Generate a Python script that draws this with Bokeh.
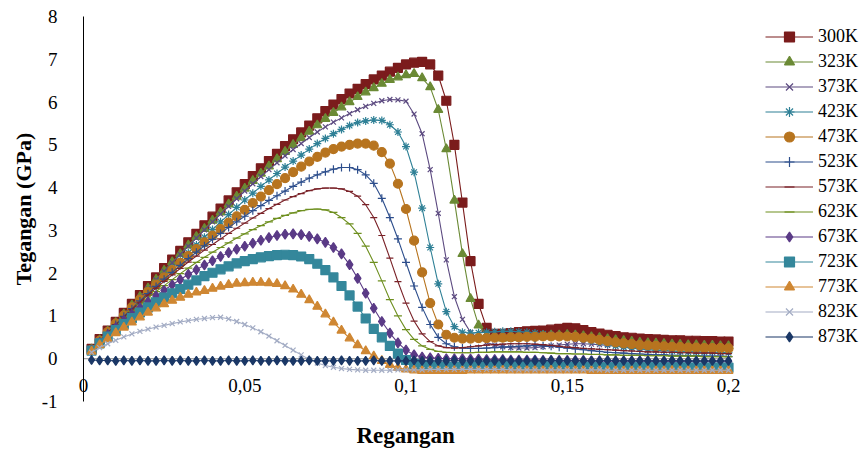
from bokeh.plotting import figure
from bokeh.models import Legend, LegendItem, FixedTicker, Title
from bokeh.embed import file_html
from bokeh.resources import INLINE

strain = [0.0025, 0.005, 0.0075, 0.01, 0.0125, 0.015, 0.0175, 0.02, 0.0225, 0.025,
          0.0275, 0.03, 0.0325, 0.035, 0.0375, 0.04, 0.0425, 0.045, 0.0475, 0.05,
          0.0525, 0.055, 0.0575, 0.06, 0.0625, 0.065, 0.0675, 0.07, 0.0725, 0.075,
          0.0775, 0.08, 0.0825, 0.085, 0.0875, 0.09, 0.0925, 0.095, 0.0975, 0.1,
          0.1025, 0.105, 0.1075, 0.11, 0.1125, 0.115, 0.1175, 0.12, 0.1225, 0.125,
          0.1275, 0.13, 0.1325, 0.135, 0.1375, 0.14, 0.1425, 0.145, 0.1475, 0.15,
          0.1525, 0.155, 0.1575, 0.16, 0.1625, 0.165, 0.1675, 0.17, 0.1725, 0.175,
          0.1775, 0.18, 0.1825, 0.185, 0.1875, 0.19, 0.1925, 0.195, 0.1975, 0.2]

s300 = [0.23, 0.46, 0.66, 0.86, 1.07, 1.28, 1.49, 1.70, 1.90, 2.12,
        2.32, 2.52, 2.72, 2.92, 3.12, 3.32, 3.51, 3.70, 3.89, 4.08,
        4.27, 4.45, 4.62, 4.79, 4.97, 5.13, 5.29, 5.45, 5.62, 5.79,
        5.94, 6.07, 6.20, 6.31, 6.42, 6.53, 6.62, 6.71, 6.80, 6.88,
        6.92, 6.94, 6.88, 6.62, 6.03, 5.00, 3.65, 2.28, 1.28, 0.72,
        0.58, 0.58, 0.60, 0.62, 0.64, 0.65, 0.66, 0.68, 0.70, 0.72,
        0.71, 0.67, 0.62, 0.59, 0.56, 0.53, 0.50, 0.49, 0.47, 0.46,
        0.45, 0.44, 0.43, 0.43, 0.42, 0.42, 0.41, 0.41, 0.40, 0.40]
s323 = [0.22, 0.44, 0.64, 0.84, 1.04, 1.25, 1.45, 1.65, 1.85, 2.06,
        2.26, 2.45, 2.65, 2.85, 3.04, 3.23, 3.42, 3.61, 3.79, 3.98,
        4.16, 4.33, 4.50, 4.67, 4.84, 5.00, 5.16, 5.31, 5.46, 5.61,
        5.75, 5.88, 6.00, 6.12, 6.23, 6.33, 6.43, 6.52, 6.58, 6.63,
        6.66, 6.56, 6.35, 5.82, 4.90, 3.70, 2.45, 1.40, 0.78, 0.55,
        0.50, 0.48, 0.49, 0.50, 0.52, 0.53, 0.54, 0.55, 0.55, 0.56,
        0.55, 0.53, 0.51, 0.49, 0.46, 0.44, 0.42, 0.40, 0.38, 0.37,
        0.36, 0.35, 0.34, 0.33, 0.32, 0.32, 0.31, 0.31, 0.30, 0.30]
s373 = [0.22, 0.44, 0.64, 0.84, 1.04, 1.24, 1.44, 1.64, 1.84, 2.04,
        2.24, 2.44, 2.63, 2.82, 3.01, 3.20, 3.38, 3.56, 3.74, 3.92,
        4.09, 4.26, 4.42, 4.58, 4.74, 4.89, 5.03, 5.17, 5.30, 5.42,
        5.53, 5.63, 5.73, 5.82, 5.90, 5.97, 6.03, 6.06, 6.05, 6.02,
        5.72, 5.26, 4.42, 3.40, 2.31, 1.45, 0.92, 0.62, 0.47, 0.38,
        0.32, 0.28, 0.26, 0.25, 0.25, 0.26, 0.28, 0.30, 0.32, 0.34,
        0.35, 0.35, 0.34, 0.33, 0.31, 0.30, 0.28, 0.27, 0.26, 0.25,
        0.24, 0.24, 0.23, 0.23, 0.22, 0.22, 0.21, 0.21, 0.20, 0.20]
s423 = [0.22, 0.43, 0.63, 0.82, 1.01, 1.20, 1.39, 1.58, 1.76, 1.94,
        2.12, 2.30, 2.48, 2.66, 2.84, 3.02, 3.20, 3.37, 3.54, 3.71,
        3.87, 4.03, 4.18, 4.33, 4.48, 4.62, 4.76, 4.90, 5.03, 5.15,
        5.26, 5.36, 5.45, 5.52, 5.56, 5.58, 5.57, 5.47, 5.30, 4.96,
        4.36, 3.52, 2.60, 1.75, 1.10, 0.75, 0.62, 0.60, 0.61, 0.62,
        0.63, 0.64, 0.64, 0.63, 0.62, 0.60, 0.58, 0.56, 0.54, 0.52,
        0.49, 0.46, 0.42, 0.38, 0.34, 0.30, 0.27, 0.25, 0.23, 0.21,
        0.20, 0.19, 0.18, 0.17, 0.16, 0.16, 0.15, 0.15, 0.15, 0.14]
s473 = [0.21, 0.42, 0.62, 0.82, 1.01, 1.20, 1.38, 1.56, 1.73, 1.90,
        2.07, 2.24, 2.40, 2.56, 2.72, 2.88, 3.03, 3.18, 3.33, 3.48,
        3.64, 3.79, 3.94, 4.08, 4.22, 4.36, 4.49, 4.61, 4.72, 4.82,
        4.90, 4.96, 5.00, 5.03, 5.03, 4.98, 4.83, 4.56, 4.09, 3.50,
        2.76, 2.02, 1.30, 0.80, 0.56, 0.49, 0.47, 0.47, 0.48, 0.48,
        0.49, 0.49, 0.50, 0.50, 0.51, 0.51, 0.52, 0.52, 0.52, 0.52,
        0.51, 0.49, 0.47, 0.44, 0.41, 0.38, 0.36, 0.34, 0.32, 0.31,
        0.30, 0.29, 0.28, 0.27, 0.26, 0.26, 0.25, 0.25, 0.25, 0.24]
s523 = [0.21, 0.41, 0.61, 0.80, 0.99, 1.17, 1.35, 1.52, 1.69, 1.86,
        2.02, 2.18, 2.34, 2.49, 2.64, 2.79, 2.93, 3.07, 3.20, 3.33,
        3.46, 3.58, 3.70, 3.81, 3.92, 4.03, 4.13, 4.22, 4.30, 4.37,
        4.43, 4.47, 4.47, 4.42, 4.30, 4.10, 3.75, 3.30, 2.80, 2.25,
        1.70, 1.20, 0.80, 0.50, 0.35, 0.28, 0.25, 0.24, 0.24, 0.25,
        0.26, 0.27, 0.28, 0.29, 0.30, 0.31, 0.30, 0.29, 0.27, 0.25,
        0.23, 0.21, 0.19, 0.17, 0.15, 0.14, 0.13, 0.12, 0.11, 0.10,
        0.09, 0.09, 0.08, 0.08, 0.07, 0.07, 0.06, 0.06, 0.06, 0.05]
s573 = [0.20, 0.40, 0.60, 0.79, 0.97, 1.15, 1.32, 1.49, 1.65, 1.81,
        1.96, 2.11, 2.26, 2.40, 2.54, 2.67, 2.80, 2.93, 3.05, 3.17,
        3.29, 3.40, 3.51, 3.61, 3.71, 3.79, 3.86, 3.93, 3.97, 3.99,
        3.99, 3.97, 3.91, 3.80, 3.60, 3.30, 2.88, 2.35, 1.80, 1.30,
        0.88, 0.58, 0.40, 0.30, 0.26, 0.25, 0.26, 0.28, 0.30, 0.32,
        0.33, 0.34, 0.35, 0.35, 0.35, 0.34, 0.33, 0.31, 0.29, 0.27,
        0.26, 0.24, 0.23, 0.22, 0.21, 0.20, 0.19, 0.18, 0.17, 0.16,
        0.16, 0.15, 0.15, 0.14, 0.14, 0.13, 0.13, 0.13, 0.12, 0.12]
s623 = [0.20, 0.39, 0.58, 0.76, 0.93, 1.10, 1.26, 1.42, 1.57, 1.71,
        1.85, 1.99, 2.12, 2.25, 2.37, 2.49, 2.60, 2.71, 2.82, 2.92,
        3.02, 3.11, 3.20, 3.28, 3.35, 3.41, 3.46, 3.49, 3.50, 3.48,
        3.42, 3.30, 3.15, 2.93, 2.63, 2.25, 1.82, 1.38, 1.00, 0.68,
        0.45, 0.30, 0.22, 0.17, 0.15, 0.14, 0.14, 0.14, 0.15, 0.15,
        0.16, 0.16, 0.16, 0.16, 0.15, 0.15, 0.14, 0.13, 0.12, 0.12,
        0.11, 0.11, 0.10, 0.10, 0.09, 0.09, 0.08, 0.08, 0.08, 0.07,
        0.07, 0.07, 0.06, 0.06, 0.06, 0.06, 0.05, 0.05, 0.05, 0.05]
s673 = [0.20, 0.38, 0.56, 0.73, 0.89, 1.04, 1.19, 1.33, 1.47, 1.60,
        1.73, 1.85, 1.97, 2.08, 2.19, 2.29, 2.39, 2.48, 2.56, 2.63,
        2.70, 2.77, 2.83, 2.88, 2.91, 2.92, 2.90, 2.86, 2.80, 2.72,
        2.60, 2.45, 2.20, 1.88, 1.53, 1.18, 0.87, 0.60, 0.37, 0.20,
        0.09, 0.04, 0.02, 0.01, 0.00, 0.00, 0.00, -0.01, -0.01, -0.02,
        -0.02, -0.02, -0.03, -0.03, -0.03, -0.03, -0.04, -0.04, -0.04, -0.04,
        -0.04, -0.04, -0.05, -0.05, -0.05, -0.05, -0.05, -0.05, -0.05, -0.05,
        -0.06, -0.06, -0.06, -0.06, -0.06, -0.06, -0.06, -0.06, -0.06, -0.06]
s723 = [0.19, 0.36, 0.52, 0.67, 0.81, 0.95, 1.08, 1.20, 1.32, 1.43,
        1.53, 1.63, 1.73, 1.83, 1.93, 2.01, 2.09, 2.16, 2.23, 2.28,
        2.33, 2.37, 2.40, 2.42, 2.43, 2.42, 2.39, 2.33, 2.22, 2.07,
        1.90, 1.70, 1.48, 1.22, 0.94, 0.70, 0.50, 0.30, 0.12, -0.03,
        -0.12, -0.16, -0.18, -0.19, -0.19, -0.19, -0.19, -0.19, -0.18, -0.18,
        -0.18, -0.18, -0.18, -0.18, -0.18, -0.18, -0.18, -0.18, -0.19, -0.19,
        -0.19, -0.19, -0.19, -0.20, -0.20, -0.20, -0.20, -0.20, -0.20, -0.20,
        -0.20, -0.20, -0.20, -0.20, -0.21, -0.21, -0.21, -0.21, -0.21, -0.21]
s773 = [0.17, 0.32, 0.46, 0.60, 0.73, 0.85, 0.97, 1.08, 1.18, 1.28,
        1.36, 1.43, 1.50, 1.55, 1.59, 1.64, 1.69, 1.73, 1.76, 1.77,
        1.78, 1.78, 1.77, 1.75, 1.70, 1.62, 1.50, 1.37, 1.22, 1.04,
        0.85, 0.66, 0.48, 0.32, 0.18, 0.06, -0.05, -0.14, -0.21, -0.25,
        -0.27, -0.28, -0.28, -0.28, -0.28, -0.28, -0.28, -0.27, -0.27, -0.27,
        -0.27, -0.27, -0.27, -0.27, -0.27, -0.27, -0.27, -0.27, -0.27, -0.27,
        -0.27, -0.27, -0.28, -0.28, -0.28, -0.28, -0.28, -0.28, -0.28, -0.28,
        -0.28, -0.28, -0.28, -0.28, -0.28, -0.28, -0.28, -0.28, -0.28, -0.28]
s823 = [0.15, 0.26, 0.35, 0.43, 0.51, 0.58, 0.64, 0.69, 0.74, 0.78,
        0.82, 0.86, 0.89, 0.92, 0.94, 0.96, 0.97, 0.93, 0.87, 0.80,
        0.72, 0.63, 0.53, 0.42, 0.31, 0.20, 0.09, -0.02, -0.10, -0.16,
        -0.20, -0.23, -0.25, -0.26, -0.27, -0.27, -0.27, -0.27, -0.26, -0.26,
        -0.26, -0.26, -0.25, -0.25, -0.25, -0.25, -0.25, -0.25, -0.25, -0.25,
        -0.25, -0.25, -0.26, -0.26, -0.26, -0.26, -0.26, -0.26, -0.26, -0.26,
        -0.26, -0.26, -0.26, -0.26, -0.27, -0.27, -0.27, -0.27, -0.27, -0.27,
        -0.27, -0.27, -0.27, -0.27, -0.27, -0.27, -0.27, -0.27, -0.27, -0.27]
s873 = [-0.03, -0.04, -0.04, -0.05, -0.04, -0.05, -0.04, -0.05, -0.05, -0.04,
        -0.05, -0.04, -0.05, -0.05, -0.04, -0.05, -0.05, -0.04, -0.05, -0.05,
        -0.04, -0.05, -0.05, -0.04, -0.05, -0.05, -0.05, -0.04, -0.05, -0.05,
        -0.05, -0.04, -0.05, -0.05, -0.05, -0.04, -0.05, -0.05, -0.05, -0.05,
        -0.04, -0.05, -0.05, -0.05, -0.05, -0.04, -0.05, -0.05, -0.05, -0.05,
        -0.05, -0.04, -0.05, -0.05, -0.05, -0.05, -0.05, -0.04, -0.05, -0.05,
        -0.05, -0.05, -0.05, -0.05, -0.04, -0.05, -0.05, -0.05, -0.05, -0.05,
        -0.05, -0.05, -0.04, -0.05, -0.05, -0.05, -0.05, -0.05, -0.05, -0.05]

temps = ["300K", "323K", "373K", "423K", "473K", "523K", "573K",
         "623K", "673K", "723K", "773K", "823K", "873K"]
series = [s300, s323, s373, s423, s473, s523, s573, s623, s673, s723, s773, s823, s873]

colors = ["#7b1c1c", "#6b8a35", "#5c4a80", "#2f8096", "#b7741f", "#2d4e8c", "#7a2228",
          "#6e8f1f", "#5a3a86", "#34879b", "#cf8733", "#a3acc4", "#1a3766"]
markers = ["square", "triangle", "x", "asterisk", "circle", "cross", "dash",
           "dash", "diamond", "square", "triangle", "x", "diamond"]
sizes = [9, 9, 7, 8, 9, 8, 7, 8, 10, 9, 9, 7, 9]

x_ticks = [0, 0.05, 0.1, 0.15, 0.2]
x_tick_labels = ["0", "0,05", "0,1", "0,15", "0,2"]
y_ticks = [-1, 0, 1, 2, 3, 4, 5, 6, 7, 8]
y_tick_labels = ["-1", "0", "1", "2", "3", "4", "5", "6", "7", "8"]

SERIF = "Liberation Serif"

# The plotting frame spans the legend area too; the data area (0 .. 0.2)
# occupies the first 645 px of the 779 px wide frame.
FRAME_W, DATA_W = 779, 645
x_end = x_ticks[-1] * FRAME_W / DATA_W

p = figure(frame_width=FRAME_W, frame_height=385, x_range=(0, x_end), y_range=(-1, 8),
           output_backend="svg", toolbar_location=None,
           min_border_left=83, min_border_top=16, min_border_bottom=52,
           min_border_right=0)
p.outline_line_color = None
p.grid.visible = False
p.background_fill_color = "white"

# horizontal axis line crossing at y = 0 (Excel style)
p.segment(x0=[x_ticks[0]], y0=[0], x1=[x_ticks[-1]], y1=[0],
          line_color="#8c8c8c", line_width=1)

p.xaxis.ticker = FixedTicker(ticks=x_ticks)
p.xaxis.major_label_overrides = dict(zip(x_ticks, x_tick_labels))
p.xaxis.axis_line_color = None
p.xaxis.major_tick_line_color = None
p.xaxis.minor_tick_line_color = None
p.xaxis.major_label_standoff = -29
p.xaxis.major_label_text_font = SERIF
p.xaxis.major_label_text_font_size = "19px"
p.xaxis.major_label_text_color = "black"

p.yaxis.ticker = FixedTicker(ticks=y_ticks)
p.yaxis.major_label_overrides = dict(zip(y_ticks, y_tick_labels))
p.yaxis.axis_line_color = "black"
p.yaxis.major_tick_line_color = None
p.yaxis.minor_tick_line_color = None
p.yaxis.major_label_standoff = 20
p.yaxis.major_label_text_font = SERIF
p.yaxis.major_label_text_font_size = "19px"
p.yaxis.major_label_text_color = "black"
p.yaxis.axis_label = "Tegangan (GPa)"
p.yaxis.axis_label_text_font = SERIF
p.yaxis.axis_label_text_font_size = "22px"
p.yaxis.axis_label_text_font_style = "bold"
p.yaxis.axis_label_text_color = "black"
p.yaxis.axis_label_standoff = 3

p.add_layout(Title(text="Regangan", align="left", offset=273, text_font=SERIF,
                   text_font_size="23px", text_font_style="bold",
                   text_color="black", standoff=39), "below")

items = []
for name, ys, c, m, s in zip(temps, series, colors, markers, sizes):
    lr = p.line(strain, ys, line_color=c, line_width=1.1)
    sr = p.scatter(strain, ys, marker=m, size=s, fill_color=c, line_color=c,
                   line_width=1.2)
    items.append(LegendItem(label=name, renderers=[lr, sr]))

legend = Legend(items=items, location=(682, 52), margin=0, padding=0, spacing=0,
                glyph_width=48, glyph_height=25, label_height=25, label_standoff=5,
                label_text_font=SERIF, label_text_font_size="18px",
                label_text_color="black",
                border_line_color=None, background_fill_alpha=0)
p.add_layout(legend, "center")

open("out.html", "w").write(file_html(p, INLINE))
